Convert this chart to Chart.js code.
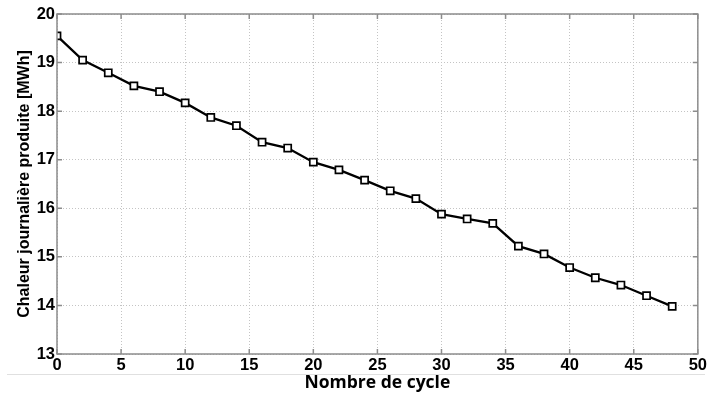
<!DOCTYPE html>
<html>
<head>
<meta charset="utf-8">
<script src="https://cdn.jsdelivr.net/npm/chart.js@4.4.1/dist/chart.umd.min.js"></script>
<style>
  html, body { margin: 0; padding: 0; background: #fff; }
  #wrap { width: 710px; height: 394px; }
</style>
</head>
<body>
<div id="wrap"><canvas id="heatChart" width="710" height="394"></canvas></div>
<script>
// cycle number vs daily heat produced (MWh)
var cycles = [0, 2, 4, 6, 8, 10, 12, 14, 16, 18, 20, 22, 24, 26, 28, 30, 32, 34, 36, 38, 40, 42, 44, 46, 48];
var heat = [19.55, 19.05, 18.79, 18.52, 18.40, 18.17, 17.87, 17.70, 17.36, 17.24, 16.95, 16.79, 16.58,
            16.36, 16.20, 15.88, 15.78, 15.69, 15.22, 15.06, 14.78, 14.57, 14.42, 14.20, 13.98];
var xTicks = [0, 5, 10, 15, 20, 25, 30, 35, 40, 45, 50];
var yTicks = [13, 14, 15, 16, 17, 18, 19, 20];

// matlab style box with inward ticks
var boxTicks = {
  id: 'boxTicks',
  afterDraw: function(chart) {
    var ctx = chart.ctx, a = chart.chartArea;
    var xs = chart.scales.x, ys = chart.scales.y;
    ctx.save();
    // faint separator under the tick labels
    ctx.strokeStyle = '#e0e0e0';
    ctx.lineWidth = 1;
    ctx.beginPath();
    ctx.moveTo(7, 374.5); ctx.lineTo(705, 374.5);
    ctx.stroke();
    ctx.strokeStyle = '#8c8c8c';
    ctx.lineWidth = 1.5;
    ctx.strokeRect(a.left, a.top, a.right - a.left, a.bottom - a.top);
    var len = 5;
    ctx.beginPath();
    xTicks.forEach(function(v) {
      var px = xs.getPixelForValue(v);
      ctx.moveTo(px, a.bottom); ctx.lineTo(px, a.bottom - len);
      ctx.moveTo(px, a.top); ctx.lineTo(px, a.top + len);
    });
    yTicks.forEach(function(v) {
      var py = ys.getPixelForValue(v);
      ctx.moveTo(a.left, py); ctx.lineTo(a.left + len, py);
      ctx.moveTo(a.right, py); ctx.lineTo(a.right - len, py);
    });
    ctx.stroke();
    ctx.restore();
  }
};

var ctx = document.getElementById('heatChart').getContext('2d');
var heatChart = new Chart(ctx, {
  type: 'line',
  data: {
    datasets: [{
      data: cycles.map(function(c, i) { return { x: c, y: heat[i] }; }),
      borderColor: '#000',
      borderWidth: 2.3,
      pointStyle: 'rect',
      pointRadius: 5,
      pointBackgroundColor: '#fff',
      pointBorderColor: '#000',
      pointBorderWidth: 1.7,
      tension: 0
    }]
  },
  options: {
    responsive: false,
    animation: false,
    layout: { padding: { top: 14, right: 9, left: 15, bottom: 0 } },
    plugins: { legend: { display: false }, tooltip: { enabled: false } },
    scales: {
      x: {
        type: 'linear',
        min: 0, max: 50,
        afterBuildTicks: function(scale) { scale.ticks = xTicks.map(function(v) { return { value: v }; }); },
        afterFit: function(scale) { scale.height = 40; },
        grid: { color: '#c4c4c4', lineWidth: 1, drawTicks: false },
        border: { display: false, dash: [1, 2] },
        ticks: { color: '#000', padding: 3, maxRotation: 0,
                 font: { family: 'Liberation Sans', size: 16.5, weight: 'bold', lineHeight: 1.0 } },
        title: { display: true, text: 'Nombre de cycle', color: '#000', padding: { top: 0, bottom: 0 },
                 font: { family: 'Open Sans', size: 17.5, weight: 'bold' } }
      },
      y: {
        min: 13, max: 20,
        afterBuildTicks: function(scale) { scale.ticks = yTicks.map(function(v) { return { value: v }; }); },
        afterFit: function(scale) { scale.width = 42; },
        grid: { color: '#c4c4c4', lineWidth: 1, drawTicks: false },
        border: { display: false, dash: [1, 2] },
        ticks: { color: '#000', padding: 2, font: { family: 'Liberation Sans', size: 16.5, weight: 'bold' } },
        title: { display: true, text: 'Chaleur journalière produite [MWh]', color: '#000', padding: { top: 0, bottom: 1 },
                 font: { family: 'Liberation Sans', size: 16, weight: 'bold' } }
      }
    }
  },
  plugins: [boxTicks]
});
</script>
</body>
</html>
